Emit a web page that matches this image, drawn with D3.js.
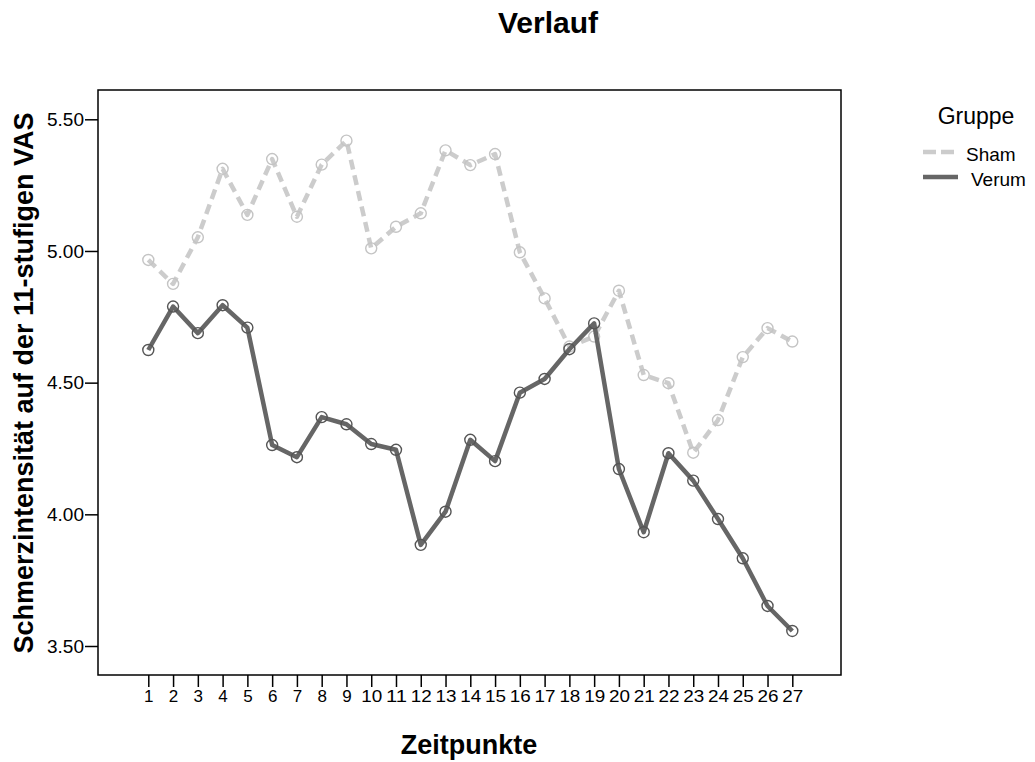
<!DOCTYPE html>
<html>
<head>
<meta charset="utf-8">
<style>
body { margin: 0; background: #fff; }
svg text { font-family: "Liberation Sans", Arial, sans-serif; fill: #000; }
</style>
<script src="https://cdn.jsdelivr.net/npm/d3@7"></script>
</head>
<body>
<svg id="chart" width="1035" height="762"></svg>
<script>
// values
var zeitpunkte = d3.range(1, 28);
var sham = [4.966, 4.875, 5.052, 5.312, 5.137, 5.349, 5.130, 5.328, 5.419, 5.010,
            5.092, 5.143, 5.382, 5.326, 5.368, 4.995, 4.820, 4.637, 4.675, 4.849,
            4.529, 4.498, 4.234, 4.358, 4.597, 4.707, 4.656];
var verum = [4.624, 4.789, 4.688, 4.794, 4.709, 4.263, 4.217, 4.369, 4.342, 4.267,
             4.245, 3.884, 4.010, 4.283, 4.202, 4.462, 4.514, 4.627, 4.725, 4.172,
             3.932, 4.232, 4.128, 3.982, 3.833, 3.652, 3.557];
var yTicks = [3.5, 4.0, 4.5, 5.0, 5.5];
var gruppen = ["Sham", "Verum"];

var svg = d3.select("#chart");
var pLeft = 98, pRight = 841, pTop = 90, pBottom = 675;

var x = d3.scalePoint().domain(zeitpunkte).range([148.3, 792.3]);
var y = d3.scaleLinear().domain([3.5, 5.5]).range([646, 119.3]);

var series = [
  {name: "Sham", values: sham, color: "#cccccc", mark: "#c4c4c4", dash: "10,6"},
  {name: "Verum", values: verum, color: "#666666", mark: "#555555", dash: null}
];

// frame
svg.append("rect")
  .attr("x", pLeft).attr("y", pTop)
  .attr("width", pRight - pLeft).attr("height", pBottom - pTop)
  .attr("fill", "none").attr("stroke", "#000").attr("stroke-width", 1.5);

// y axis
var yAxis = svg.append("g")
  .attr("transform", "translate(" + pLeft + ",0)")
  .call(d3.axisLeft(y).tickValues(yTicks).tickFormat(d3.format(".2f")).tickSize(13).tickPadding(1));
yAxis.select(".domain").remove();
yAxis.selectAll("line").attr("stroke", "#000").attr("stroke-width", 1.5);
yAxis.selectAll("text").style("font-size", "19px").style("font-family", "Liberation Sans, Arial, sans-serif");

// x axis
var xAxis = svg.append("g")
  .attr("transform", "translate(0," + pBottom + ")")
  .call(d3.axisBottom(x).tickSize(12).tickPadding(3));
xAxis.select(".domain").remove();
xAxis.selectAll("line").attr("stroke", "#000").attr("stroke-width", 1.5);
xAxis.selectAll("text").style("font-size", "17px").style("font-family", "Liberation Sans, Arial, sans-serif")
  .attr("textLength", function(d) { return d > 9 ? 21 : null; })
  .attr("lengthAdjust", "spacingAndGlyphs");

// lines + markers
var line = d3.line()
  .x(function(d, i) { return x(zeitpunkte[i]); })
  .y(function(d) { return y(d); });

series.forEach(function(s) {
  svg.append("path")
    .datum(s.values)
    .attr("d", line)
    .attr("fill", "none")
    .attr("stroke", s.color)
    .attr("stroke-width", 4.5)
    .attr("stroke-dasharray", s.dash)
    .attr("stroke-linejoin", "round");
  svg.append("g").selectAll("circle")
    .data(s.values)
    .enter().append("circle")
    .attr("cx", function(d, i) { return x(zeitpunkte[i]); })
    .attr("cy", function(d) { return y(d); })
    .attr("r", 5.5)
    .attr("fill", "none")
    .attr("stroke", s.mark)
    .attr("stroke-width", 1.4);
});

// titles
svg.append("text")
  .attr("x", 548).attr("y", 33)
  .attr("text-anchor", "middle")
  .style("font-size", "30px").style("font-weight", "bold")
  .text("Verlauf");

svg.append("text")
  .attr("x", 469).attr("y", 754)
  .attr("text-anchor", "middle")
  .style("font-size", "27px").style("font-weight", "bold")
  .text("Zeitpunkte");

svg.append("text")
  .attr("transform", "translate(33,383) rotate(-90)")
  .attr("text-anchor", "middle")
  .style("font-size", "27px").style("font-weight", "bold")
  .text("Schmerzintensität auf der 11-stufigen VAS");

// legend
var legend = svg.append("g");
legend.append("text")
  .attr("x", 976).attr("y", 124)
  .attr("text-anchor", "middle")
  .style("font-size", "23px")
  .text("Gruppe");

gruppen.forEach(function(g, i) {
  var s = series[i];
  var ly = 152 + i * 25;
  legend.append("line")
    .attr("x1", 923).attr("x2", s.dash ? 955 : 958)
    .attr("y1", ly).attr("y2", ly)
    .attr("stroke", s.color)
    .attr("stroke-width", 4.5)
    .attr("stroke-dasharray", s.dash ? "13,5" : null);
  legend.append("text")
    .attr("x", i === 0 ? 966 : 971).attr("y", ly + 9)
    .style("font-size", "19px")
    .text(g);
});
</script>
</body>
</html>
